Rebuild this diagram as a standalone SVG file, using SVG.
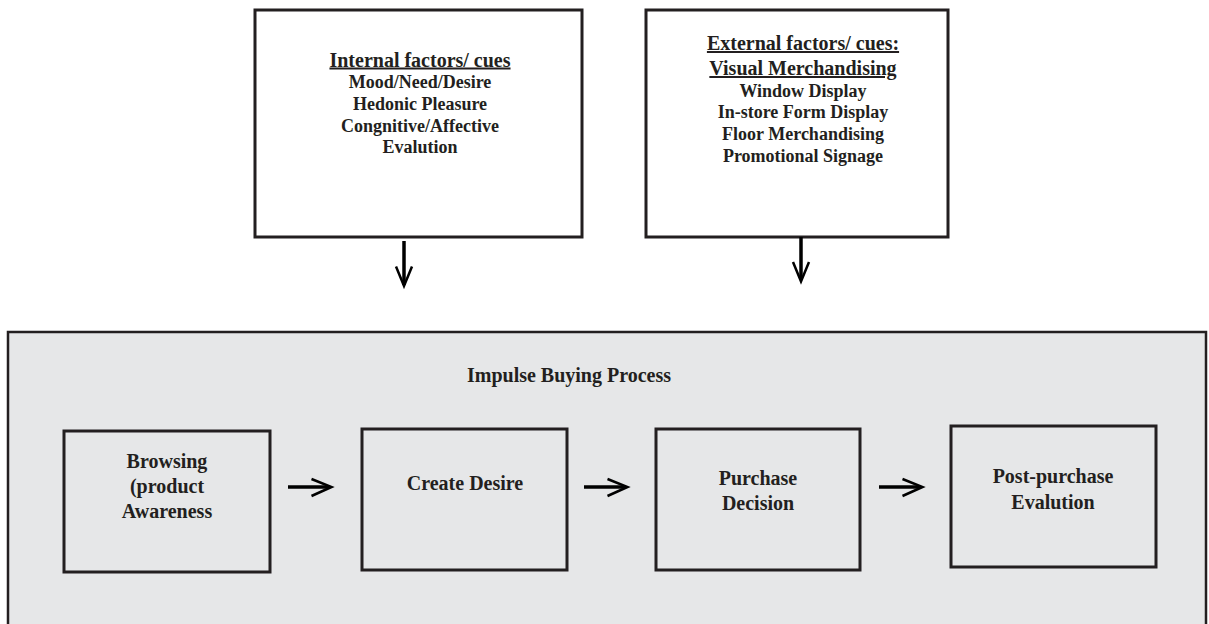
<svg xmlns="http://www.w3.org/2000/svg" width="1209" height="624" viewBox="0 0 1209 624">
<defs>
<style>
.box{fill:#ffffff;stroke:#231f20;stroke-width:3}
.inner{fill:#e6e7e8;stroke:#231f20;stroke-width:3}
.big{fill:#e6e7e8;stroke:#231f20;stroke-width:2.5}
.t{font-family:"Liberation Serif","Times New Roman",serif;font-weight:bold;fill:#231f20;text-anchor:middle}
.h{font-size:20px;text-decoration:underline}
.b18{font-size:18px}
.b20{font-size:20px}
.shaft{stroke:#000;stroke-width:3.5;fill:none}
.head{stroke:#000;stroke-width:2.5;fill:none;stroke-linejoin:miter}
</style>
</defs>
<rect x="0" y="0" width="1209" height="624" fill="#ffffff"/>
<g id="internal">
<rect class="box" x="255" y="10" width="327" height="227"/>
<text class="t h" x="420" y="66.5">Internal factors/ cues</text>
<text class="t b18" x="420" y="88">Mood/Need/Desire</text>
<text class="t b18" x="420" y="110">Hedonic Pleasure</text>
<text class="t b18" x="420" y="131.5">Congnitive/Affective</text>
<text class="t b18" x="420" y="153">Evalution</text>
</g>
<g id="external">
<rect class="box" x="646" y="10" width="302" height="227"/>
<text class="t h" x="803" y="50">External factors/ cues:</text>
<text class="t h" x="803" y="75">Visual Merchandising</text>
<text class="t b18" x="803" y="96.5">Window Display</text>
<text class="t b18" x="803" y="118">In-store Form Display</text>
<text class="t b18" x="803" y="140">Floor Merchandising</text>
<text class="t b18" x="803" y="161.5">Promotional Signage</text>
</g>
<g id="process">
<rect class="big" x="8" y="332" width="1198" height="300"/>
<text class="t b20" x="569" y="382">Impulse Buying Process</text>
</g>
<g id="browsing">
<rect class="inner" x="64" y="431" width="206" height="141"/>
<text class="t b20" x="167" y="468">Browsing</text>
<text class="t b20" x="167" y="493">(product</text>
<text class="t b20" x="167" y="518">Awareness</text>
</g>
<g id="create">
<rect class="inner" x="362" y="429" width="205" height="141"/>
<text class="t b20" x="465" y="490">Create Desire</text>
</g>
<g id="purchase">
<rect class="inner" x="656" y="429" width="204" height="141"/>
<text class="t b20" x="758" y="485">Purchase</text>
<text class="t b20" x="758" y="510">Decision</text>
</g>
<g id="post">
<rect class="inner" x="951" y="426" width="205" height="141"/>
<text class="t b20" x="1053" y="483">Post-purchase</text>
<text class="t b20" x="1053" y="509">Evalution</text>
</g>
<g id="connectors">
<line class="shaft" x1="404" y1="241" x2="404" y2="285"/>
<polyline class="head" points="396,266.5 404,286 412,266.5"/>
<line class="shaft" x1="801" y1="237" x2="801" y2="280"/>
<polyline class="head" points="793,262 801,281.5 809,262"/>
<line class="shaft" x1="288" y1="487" x2="330" y2="487"/>
<polyline class="head" points="311.5,479 331.5,487 311.5,496"/>
<line class="shaft" x1="584" y1="487" x2="626" y2="487"/>
<polyline class="head" points="607.5,479 627.5,487 607.5,496"/>
<line class="shaft" x1="879" y1="487" x2="921" y2="487"/>
<polyline class="head" points="902.5,479 922.5,487 902.5,496"/>
</g>
</svg>
